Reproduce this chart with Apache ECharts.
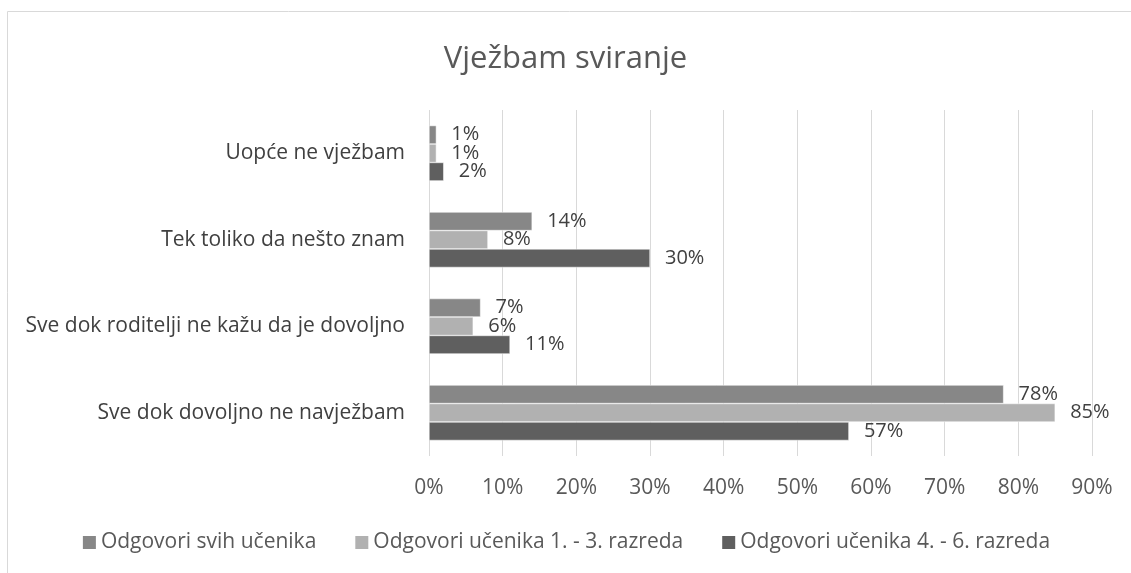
<!DOCTYPE html>
<html><head><meta charset="utf-8">
<script src="https://cdn.jsdelivr.net/npm/echarts@6/dist/echarts.min.js"></script>
<style>html,body{margin:0;padding:0;background:#fff}#c{width:1131px;height:573px}</style>
</head><body><div id="c"></div>
<script>
const title = "Vježbam sviranje";
const categories = ["Uopće ne vježbam", "Tek toliko da nešto znam", "Sve dok roditelji ne kažu da je dovoljno", "Sve dok dovoljno ne navježbam"];
const seriesNames = ["Odgovori svih učenika", "Odgovori učenika 1. - 3. razreda", "Odgovori učenika 4. - 6. razreda"];
const allStudents = [1, 14, 7, 78];
const grades1to3 = [1, 8, 6, 85];
const grades4to6 = [2, 30, 11, 57];
const xTicks = [0, 10, 20, 30, 40, 50, 60, 70, 80, 90];
const colors = ["#878787", "#b1b1b1", "#5f5f5f"];
const FONT = "Open Sans";
const chart = echarts.init(document.getElementById('c'));
const values = [allStudents, grades1to3, grades4to6];
chart.setOption({
  animation: false,
  title: {text: title, left: 'center', top: 39, textStyle: {fontFamily: FONT, fontSize: 31, fontWeight: 'normal', color: '#595959'}},
  graphic: [{type: 'rect', shape: {x: 7.5, y: 11.5, width: 1200, height: 700}, style: {fill: 'none', stroke: '#d9d9d9', lineWidth: 1}, silent: true}],
  legend: {bottom: 15, left: 'center', itemWidth: 15, itemHeight: 15, itemGap: 37, icon: 'rect',
    textStyle: {fontFamily: FONT, fontSize: 21, color: '#595959', padding: [0, 0, 0, -1]}, data: seriesNames},
  grid: {left: 429, right: 39, top: 110, bottom: 117, containLabel: false},
  xAxis: {type: 'value', min: 0, max: 90, interval: 10,
    axisLabel: {formatter: v => v + '%', fontFamily: FONT, fontSize: 21, color: '#595959', margin: 22},
    splitLine: {lineStyle: {color: '#d9d9d9', width: 1}}, axisLine: {show: false}, axisTick: {show: false}},
  yAxis: {type: 'category', inverse: true, data: categories,
    axisLabel: {fontFamily: FONT, fontSize: 21, color: '#404040', margin: 24},
    axisLine: {show: false}, axisTick: {show: false}},
  series: seriesNames.map((n, i) => ({
    name: n, type: 'bar', data: values[i], barGap: '0%', barCategoryGap: '36%',
    itemStyle: {color: colors[i], borderColor: '#ffffff', borderWidth: 0.5},
    label: {show: true, position: 'right', distance: 15, formatter: p => p.value + '%', fontFamily: FONT, fontSize: 20, color: '#404040'}
  }))
});
</script></body></html>
